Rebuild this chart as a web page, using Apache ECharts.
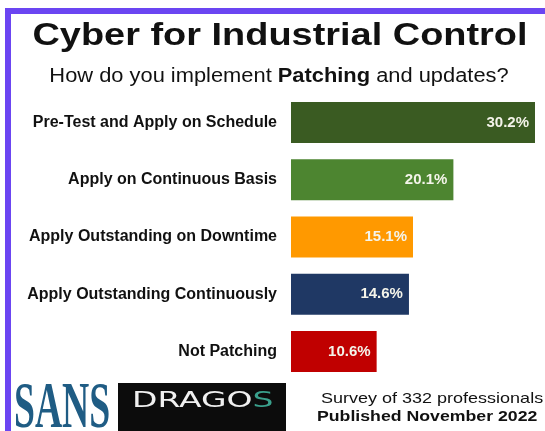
<!DOCTYPE html>
<html>
<head>
<meta charset="utf-8">
<script src="https://cdn.jsdelivr.net/npm/echarts@6/dist/echarts.min.js"></script>
<style>
  html, body { margin: 0; padding: 0; background: #fff; }
  #chart { width: 545px; height: 431px; }
</style>
</head>
<body>
<div id="chart"></div>
<script>
const categories = [
  'Pre-Test and Apply on Schedule',
  'Apply on Continuous Basis',
  'Apply Outstanding on Downtime',
  'Apply Outstanding Continuously',
  'Not Patching'
];
const values = [30.2, 20.1, 15.1, 14.6, 10.6];
const barColors = ['#3a5b22', '#4d8530', '#ff9900', '#1f3864', '#c00000'];

const chart = echarts.init(document.getElementById('chart'));

const options = {
  animation: false,
  backgroundColor: '#fff',
  color: barColors,
  grid: { left: 291, right: 10, top: 94, height: 286 },
  xAxis: {
    type: 'value',
    min: 0,
    max: 30.2,
    show: false
  },
  yAxis: {
    type: 'category',
    data: categories,
    inverse: true,
    axisLine: { show: false },
    axisTick: { show: false },
    axisLabel: {
      margin: 14,
      fontFamily: 'Liberation Sans',
      fontSize: 16,
      fontWeight: 'bold',
      color: '#111'
    }
  },
  series: [
    {
      type: 'bar',
      colorBy: 'data',
      data: values,
      barWidth: 41,
      label: {
        show: true,
        position: 'insideRight',
        offset: [-1, 0],
        formatter: (p) => p.value.toFixed(1) + '%',
        fontFamily: 'Liberation Sans',
        fontSize: 15,
        fontWeight: 'bold',
        color: '#f4f4ea'
      }
    }
  ],
  graphic: [
    // purple frame
    { type: 'rect', shape: { x: 5, y: 8, width: 540, height: 6 }, style: { fill: '#6b45f2' } },
    { type: 'rect', shape: { x: 5, y: 8, width: 6, height: 423 }, style: { fill: '#6b45f2' } },
    // title + subtitle (source image is stretched sideways)
    {
      type: 'text',
      x: 280,
      y: 36,
      scaleX: 1.185,
      style: {
        text: 'Cyber for Industrial Control',
        font: 'bold 32px "Liberation Sans"',
        fill: '#111',
        align: 'center',
        verticalAlign: 'middle'
      }
    },
    {
      type: 'text',
      x: 279,
      y: 76,
      scaleX: 1.093,
      style: {
        text: '{a|How do you implement }{b|Patching}{a| and updates?}',
        align: 'center',
        verticalAlign: 'middle',
        rich: {
          a: { font: '20px "Liberation Sans"', fill: '#111' },
          b: { font: 'bold 20px "Liberation Sans"', fill: '#111' }
        }
      }
    },
    // logos
    {
      type: 'text',
      x: 14,
      y: 377,
      scaleX: 0.57,
      style: {
        text: 'SANS',
        font: 'bold 66px "Liberation Serif"',
        fill: '#1f5c84'
      }
    },
    { type: 'rect', shape: { x: 118, y: 383, width: 168, height: 48 }, style: { fill: '#0c0c0c' } },
    {
      type: 'text',
      x: 132,
      y: 401,
      scaleX: 1.5,
      style: {
        text: '{d|DRAGO}{s|S}',
        verticalAlign: 'middle',
        rich: {
          d: { font: '22px "DejaVu Sans"', fill: '#f0f0f0' },
          s: { font: '22px "DejaVu Sans"', fill: '#3aa08c' }
        }
      }
    },
    {
      type: 'text',
      x: 321,
      y: 399,
      scaleX: 1.2,
      style: { text: 'Survey of 332 professionals', font: '15px "Liberation Sans"', fill: '#111', verticalAlign: 'middle' }
    },
    {
      type: 'text',
      x: 317,
      y: 417,
      scaleX: 1.18,
      style: { text: 'Published November 2022', font: 'bold 15px "Liberation Sans"', fill: '#111', verticalAlign: 'middle' }
    }
  ]
};

chart.setOption(options);
</script>
</body>
</html>
